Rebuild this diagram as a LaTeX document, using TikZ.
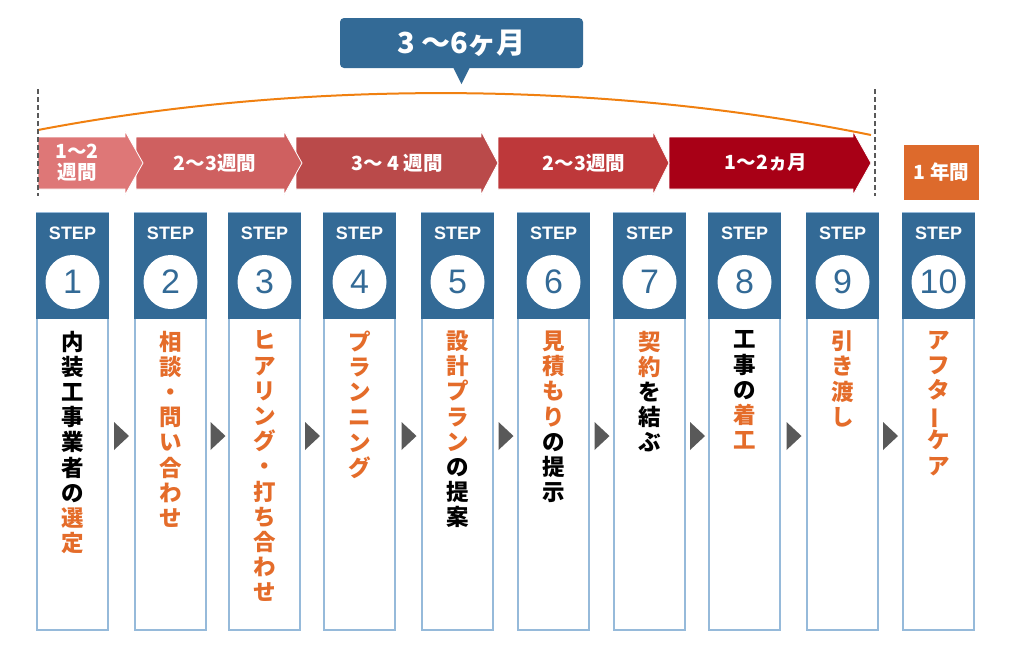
\documentclass[tikz,border=0pt]{standalone}
\usepackage{fontspec}
\usepackage{graphicx}
\setmainfont{Noto Sans CJK JP}
\newfontfamily\latinfont{Liberation Sans}
\usetikzlibrary{positioning}
\definecolor{stepblue}{RGB}{51,106,150}
\definecolor{boxline}{RGB}{150,186,218}
\definecolor{stepor}{RGB}{228,108,42}
\definecolor{yearor}{RGB}{221,106,44}
\definecolor{markgray}{RGB}{89,89,89}
\definecolor{curveor}{RGB}{240,128,16}
\definecolor{wk1}{RGB}{222,119,119}
\definecolor{wk2}{RGB}{207,96,96}
\definecolor{wk3}{RGB}{186,74,74}
\definecolor{wk4}{RGB}{190,56,58}
\definecolor{wk5}{RGB}{168,0,22}
\newcommand\orng[1]{\textcolor{stepor}{#1}}
\newcommand\vbar{\rotatebox[origin=c]{90}{ー}}
\tikzset{
    stepbox/.style = {rectangle, draw=boxline, line width=1.5pt, minimum width=71pt, minimum height=417pt, inner sep=0pt},
    stephead/.style = {rectangle, fill=stepblue, minimum width=72.5pt, minimum height=106pt, inner sep=0pt},
    stepnum/.style = {circle, fill=white, minimum size=54pt, inner sep=0pt, text=stepblue, font=\latinfont\fontsize{34}{34}\selectfont},
    steplabel/.style = {text=white, inner sep=0pt, font=\latinfont\bfseries\fontsize{18}{18}\selectfont},
    vtext/.style = {align=center, inner sep=0pt, font=\bfseries\fontsize{22.5}{25.2}\selectfont},
    vtexto/.style = {vtext, text=stepor},
    spanarrow/.style = {draw=white, line width=0.8pt},
    spantext/.style = {text=white, align=center, inner sep=0pt, font=\bfseries\fontsize{19.5}{21}\selectfont},
    callout/.style = {rectangle, rounded corners=4pt, fill=stepblue, minimum width=243pt, minimum height=50pt, text=white, font=\bfseries\fontsize{29}{29}\selectfont},
    yearbox/.style = {rectangle, fill=yearor, minimum width=75pt, minimum height=55pt, text=white, font=\bfseries\fontsize{19.5}{19.5}\selectfont},
    marker/.style = {fill=markgray},
    limitline/.style = {draw=black!65, line width=2pt, dash pattern=on 5pt off 3pt},
    curveline/.style = {draw=curveor, line width=2pt}
}
\begin{document}
\begin{tikzpicture}[x=1pt,y=-1pt]
\useasboundingbox (0,0) rectangle (1024,670);
%
\node[callout] at (461.5,43) (total) {3 〜6ヶ月};
\fill[stepblue] ([xshift=-8pt]total.south) -- ([yshift=-16pt]total.south) -- ([xshift=8pt]total.south) -- cycle;
%
\foreach \s/\e/\t/\c in {669/853/871/wk5, 498/653/669/wk4, 296/481/498/wk3, 136/284/302/wk2, 38/125/143/wk1}
  \draw[spanarrow, fill=\c] (\s,137) -- (\e,137) -- (\e,131) -- (\t,163) -- (\e,195) -- (\e,189) -- (\s,189) -- cycle;
\node[spantext] at (77,163) (w1) {1〜2\\週間};
\node[spantext] at (215,163) (w2) {2〜3週間};
\node[spantext] at (397,163) (w3) {3〜 4 週間};
\node[spantext] at (584,163) (w4) {2〜3週間};
\node[spantext] at (766,163) (w5) {1〜2ヵ月};
\node[yearbox] at (941.5,172.5) (year) {1 年間};
%
\coordinate (lt) at (38,89);
\coordinate (lb) at (38,196);
\coordinate (rt) at (875,89);
\coordinate (rb) at (875,196);
\coordinate (cs) at (38,130);
\coordinate (ce) at (871,135);
\draw[curveline] (cs) .. controls (300,80) and (600,80) .. (ce);
\draw[limitline] (lt) -- (lb);
\draw[limitline] (rt) -- (rb);
%
\foreach \x [count=\i] in {37,135,229,324,422,518,614,709,807,903} {
  \node[stepbox] at (\x+35.5,421.5) (box\i) {};
  \node[stephead] at (\x+35.5,265.5) (head\i) {};
  \node[steplabel] at (\x+35.5,233) (lab\i) {STEP};
  \node[stepnum] at (\x+35.5,282) (num\i) {\i};
}
\foreach \m in {121,217.5,312,408.5,505.5,601.5,697,793.5,890}
  \fill[marker] (\m-7,422) -- (\m+8,436) -- (\m-7,450) -- cycle;
%
\node[vtext, below=12pt of head1] (t1) {内\\装\\工\\事\\業\\者\\の\\\orng{選}\\\orng{定}};
\node[vtexto, below=12pt of head2] (t2) {相\\談\\・\\問\\い\\合\\わ\\せ};
\node[vtexto, below=12pt of head3] (t3) {ヒ\\ア\\リ\\ン\\グ\\・\\打\\ち\\合\\わ\\せ};
\node[vtexto, below=12pt of head4] (t4) {プ\\ラ\\ン\\ニ\\ン\\グ};
\node[vtext, below=12pt of head5] (t5) {\orng{設}\\\orng{計}\\\orng{プ}\\\orng{ラ}\\\orng{ン}\\の\\提\\案};
\node[vtext, below=12pt of head6] (t6) {\orng{見}\\\orng{積}\\\orng{も}\\\orng{り}\\の\\提\\示};
\node[vtext, below=12pt of head7] (t7) {\orng{契}\\\orng{約}\\を\\結\\ぶ};
\node[vtext, below=12pt of head8] (t8) {工\\事\\の\\\orng{着}\\\orng{工}};
\node[vtexto, below=12pt of head9] (t9) {引\\き\\渡\\し};
\node[vtexto, below=12pt of head10] (t10) {ア\\フ\\タ\\\vbar\\ケ\\ア};
\end{tikzpicture}
\end{document}
